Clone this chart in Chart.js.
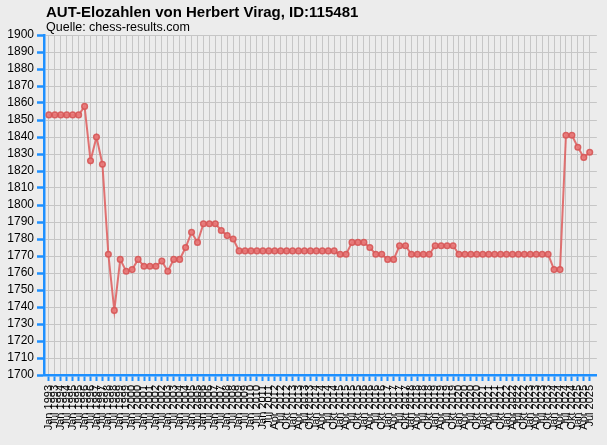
<!DOCTYPE html>
<html>
<head>
<meta charset="utf-8">
<script src="https://cdn.jsdelivr.net/npm/chart.js@4.4.1/dist/chart.umd.min.js"></script>
<style>
  html, body { margin: 0; padding: 0; background: #ececec; }
  #wrap { width: 607px; height: 445px; position: relative; }
</style>
</head>
<body>
<div id="wrap"><canvas id="eloChart"></canvas></div>
<script>
var titleText = "AUT-Elozahlen von Herbert Virag, ID:115481";
var subtitleText = "Quelle: chess-results.com";

var fechas = [
  "Jan 1993", "Jul 1993", "Jan 1994", "Jul 1994", "Jan 1995", "Jul 1995",
  "Jan 1996", "Jul 1996", "Jan 1997", "Jul 1997", "Jan 1998", "Jul 1998",
  "Jan 1999", "Jul 1999", "Jan 2000", "Jul 2000", "Jan 2001", "Jul 2001",
  "Jan 2002", "Jul 2002", "Jan 2003", "Jul 2003", "Jan 2004", "Jul 2004",
  "Jan 2005", "Jul 2005", "Jan 2006", "Jul 2006", "Jan 2007", "Jul 2007",
  "Jan 2008", "Jul 2008", "Jan 2009", "Jul 2009", "Jan 2010", "Jul 2010",
  "Jan 2011", "Jul 2011",
  "Apr 2012", "Jul 2012", "Okt 2012",
  "Jan 2013", "Apr 2013", "Jul 2013", "Okt 2013",
  "Jan 2014", "Apr 2014", "Jul 2014", "Okt 2014",
  "Jan 2015", "Apr 2015", "Jul 2015", "Okt 2015",
  "Jan 2016", "Apr 2016", "Jul 2016", "Okt 2016",
  "Jan 2017", "Apr 2017", "Jul 2017", "Okt 2017",
  "Jan 2018", "Apr 2018", "Jul 2018", "Okt 2018",
  "Jan 2019", "Apr 2019", "Jul 2019", "Okt 2019",
  "Jan 2020", "Apr 2020", "Jul 2020", "Okt 2020",
  "Jan 2021", "Apr 2021", "Jul 2021", "Okt 2021",
  "Jan 2022", "Apr 2022", "Jul 2022", "Okt 2022",
  "Jan 2023", "Apr 2023", "Jul 2023", "Okt 2023",
  "Jan 2024", "Apr 2024", "Jul 2024", "Okt 2024",
  "Jan 2025", "Apr 2025", "Jul 2025"
];

var elo = [
  1853, 1853, 1853, 1853, 1853, 1853, 1858, 1826, 1840, 1824,
  1771, 1738, 1768, 1761, 1762, 1768, 1764, 1764, 1764, 1767,
  1761, 1768, 1768, 1775, 1784, 1778, 1789, 1789, 1789, 1785,
  1782, 1780, 1773, 1773, 1773, 1773, 1773, 1773, 1773, 1773,
  1773, 1773, 1773, 1773, 1773, 1773, 1773, 1773, 1773, 1771,
  1771, 1778, 1778, 1778, 1775, 1771, 1771, 1768, 1768, 1776,
  1776, 1771, 1771, 1771, 1771, 1776, 1776, 1776, 1776, 1771,
  1771, 1771, 1771, 1771, 1771, 1771, 1771, 1771, 1771, 1771,
  1771, 1771, 1771, 1771, 1771, 1762, 1762, 1841, 1841, 1834,
  1828, 1831
];

var yMin = 1700;
var yMax = 1900;
var yStep = 10;

var blue = "#1e90ff";
var grid = "#c6c6c6";

// titles drawn aligned with the plot area, like the original
var titlePlugin = {
  id: "titles",
  afterDraw: function (chart) {
    var c = chart.ctx;
    c.save();
    c.fillStyle = "#000";
    c.textBaseline = "alphabetic";
    c.textAlign = "left";
    c.font = "bold 15px 'Liberation Sans', Arial, sans-serif";
    c.fillText(titleText, 46, 16.5);
    c.font = "12.5px 'Liberation Sans', Arial, sans-serif";
    c.fillText(subtitleText, 46, 31);
    c.restore();
  }
};

var puntos = elo.map(function (v, i) { return { x: i, y: v }; });

var ctx = document.getElementById("eloChart");
var myChart = new Chart(ctx, {
  type: "line",
  data: {
    datasets: [
      {
        label: "Elo",
        data: puntos,
        borderColor: "rgba(222, 92, 92, 0.85)",
        borderWidth: 2,
        pointRadius: 2.8,
        pointBorderWidth: 1.5,
        pointBackgroundColor: "rgba(232, 120, 120, 0.9)",
        pointBorderColor: "rgba(214, 86, 86, 0.9)",
        tension: 0,
      },
    ],
  },
  options: {
    responsive: true,
    maintainAspectRatio: false,
    animation: false,
    layout: {
      padding: { top: 35, right: 4, left: 0, bottom: 0 },
    },
    plugins: {
      legend: { display: false },
      title: { display: false },
      tooltip: { enabled: false },
    },
    scales: {
      x: {
        type: "linear",
        min: -0.83,
        max: 92.2,
        afterFit: function (scale) { scale.height = 70; },
        afterBuildTicks: function (scale) {
          scale.ticks = fechas.map(function (f, i) { return { value: i }; });
        },
        ticks: {
          autoSkip: false,
          maxRotation: 90,
          minRotation: 90,
          padding: 4,
          color: "#000",
          font: { family: "'Liberation Sans', Arial, sans-serif", size: 11 },
          callback: function (value) { return fechas[value]; },
        },
        grid: {
          color: grid,
          lineWidth: 1,
          tickColor: blue,
          tickLength: 6,
          tickWidth: 2,
        },
        border: { color: blue, width: 2.5 },
      },
      y: {
        min: yMin,
        max: yMax,
        afterFit: function (scale) { scale.width = 44; },
        ticks: {
          stepSize: yStep,
          autoSkip: false,
          padding: 3,
          color: "#000",
          font: { family: "'Liberation Sans', Arial, sans-serif", size: 12 },
          callback: function (value) { return String(value); },
        },
        grid: {
          color: grid,
          lineWidth: 1,
          tickColor: blue,
          tickLength: 7,
          tickWidth: 2.5,
        },
        border: { color: blue, width: 2.5 },
      },
    },
  },
  plugins: [titlePlugin],
});
</script>
</body>
</html>
